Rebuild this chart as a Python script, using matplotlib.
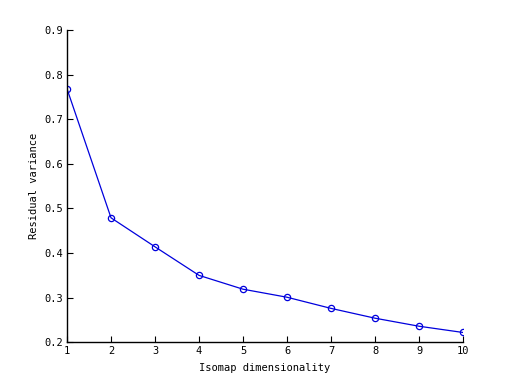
import matplotlib

matplotlib.use("Agg")
import matplotlib.pyplot as plt

# Residual variance per Isomap dimensionality
dims = [1, 2, 3, 4, 5, 6, 7, 8, 9, 10]
residual_variance = [0.768, 0.479, 0.414, 0.350, 0.319, 0.301, 0.276, 0.254, 0.236, 0.222]

x_ticks = list(range(1, 11))
y_ticks = [0.2, 0.3, 0.4, 0.5, 0.6, 0.7, 0.8, 0.9]

plt.rcParams["font.family"] = "DejaVu Sans Mono"
plt.rcParams["font.size"] = 7.5

fig = plt.figure(figsize=(5.12, 3.84), dpi=100)
ax = fig.add_axes([0.1309, 0.1086, 0.7735, 0.8133])

ax.plot(dims, residual_variance, color="#0000dd", lw=0.9,
        marker="o", markersize=4.5, markerfacecolor="none",
        markeredgecolor="#0000dd", markeredgewidth=0.9)

ax.set_xlim(1, 10)
ax.set_ylim(0.2, 0.9)
ax.set_xticks(x_ticks)
ax.set_yticks(y_ticks)
ax.set_yticklabels([f"{v:.1f}" for v in y_ticks])

# MATLAB-style: only left and bottom axes, ticks pointing in
for side in ("top", "right"):
    ax.spines[side].set_visible(False)
for side in ("left", "bottom"):
    ax.spines[side].set_linewidth(1.0)
ax.tick_params(direction="in", length=4, width=0.8, pad=3)

ax.set_xlabel("Isomap dimensionality", labelpad=5)
ax.set_ylabel("Residual variance", labelpad=4)

fig.savefig("out.png", dpi=100)
